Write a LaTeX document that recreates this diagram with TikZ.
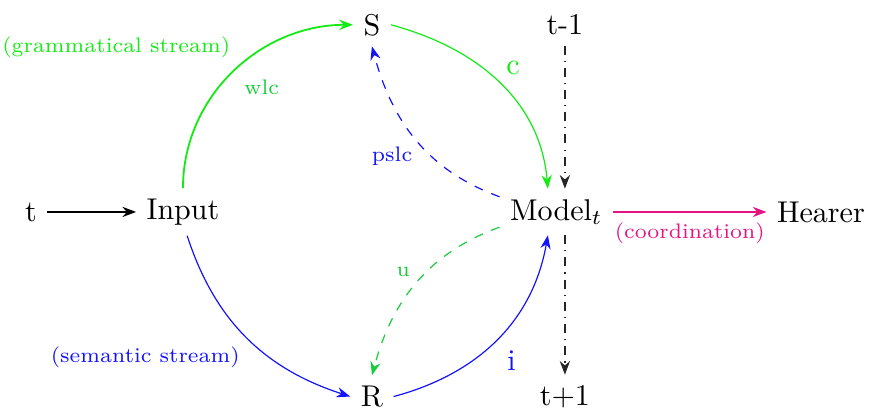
\documentclass[tikz,border=0pt]{standalone}
\usepackage{xcolor}
\usepackage{tikz}
\usetikzlibrary{arrows.meta,positioning}

\definecolor{grm}{RGB}{20,235,20}
\definecolor{grmdark}{RGB}{25,205,60}
\definecolor{sem}{RGB}{20,20,250}
\definecolor{coord}{RGB}{230,20,130}

\begin{document}
\begin{tikzpicture}[
  lbl/.style={font=\scriptsize},
  arr/.style={-{Stealth[length=1.6mm, width=1.2mm]}},
  timearr/.style={arr, dash dot, black!85}
]
\useasboundingbox (0,0) rectangle (10.18,-4.81);

\node (t) at (0.363,-2.48) {t};
\node (input) at (2.141,-2.48) {Input};
\node (S) at (4.352,-0.29) {S};
\node (tm1) at (6.61,-0.29) {t-1};
\node (model) at (6.51,-2.48) {Model$_t$};
\node (hearer) at (9.606,-2.48) {Hearer};
\node (R) at (4.352,-4.64) {R};
\node (tp1) at (6.61,-4.64) {t+1};

% stream labels
\node[lbl, text=grm] (gstream) at (1.36,-0.55) {(grammatical stream)};
\node[lbl, text=sem] (sstream) at (1.70,-4.18) {(semantic stream)};

\draw[arr] (t) -- (input);
\draw[arr, grm, semithick] (input.north) to[out=90, in=180]
  node[lbl, pos=0.5, below right=-1pt and 0pt, text=grmdark] {wlc} (S.west);
\draw[arr, grm] (S.east) to[out=-15, in=95]
  node[pos=0.5, above right=-1pt and -1pt] {c} (model.110);
\draw[arr, sem, dashed] (model.165) to[out=160, in=-75]
  node[lbl, pos=0.38, left=3pt] {pslc} (S.south);
\draw[arr, sem] (input.-80) to[out=-72, in=162] (R.west);
\draw[arr, sem] (R.east) to[out=15, in=-100]
  node[pos=0.5, below right=0pt and 0pt] {i} (model.-110);
\draw[arr, grmdark, dashed] (model.195) to[out=200, in=75]
  node[lbl, pos=0.42, left=2pt] {u} (R.north);
\draw[arr, coord] (model) -- node[lbl, below] {(coordination)} (hearer);
\draw[timearr] (tm1) -- (tm1 |- model.north);
\draw[timearr] (tm1 |- model.south) -- (tp1);
\end{tikzpicture}
\end{document}
